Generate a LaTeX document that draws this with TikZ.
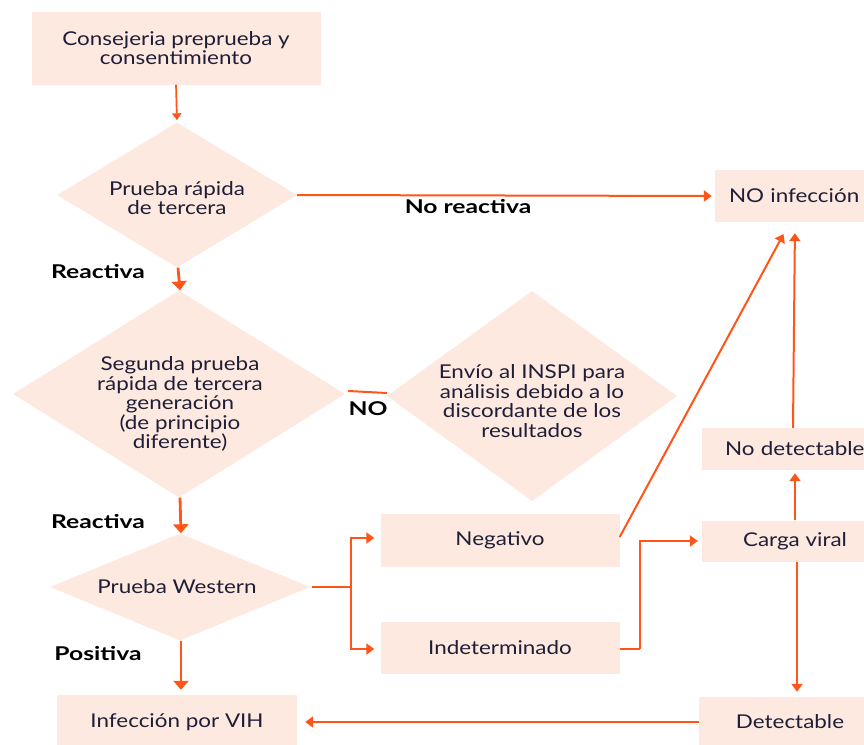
\documentclass[tikz,border=0pt]{standalone}
\usepackage{fontspec}
\setmainfont{Lato}[FakeStretch=1.18]
\newfontfamily\lblfont{Lato}[FakeStretch=1.3]
\usetikzlibrary{shapes.geometric,arrows.meta,calc}
\definecolor{peach}{RGB}{253,233,224}
\definecolor{orng}{RGB}{255,85,25}
\definecolor{ink}{RGB}{30,30,55}
\tikzset{
  box/.style={fill=peach,draw=none,inner sep=0pt,align=center,text=ink,font=\fontsize{19}{19.5}\selectfont},
  dia/.style={diamond,fill=peach,draw=none,inner sep=0pt},
  dtext/.style={align=center,text=ink,font=\fontsize{19}{19.5}\selectfont},
  lbl/.style={font=\lblfont\bfseries\fontsize{19}{19.5}\selectfont,text=black},
  arr/.style={draw=orng,line width=2pt,-{Triangle[width=11pt,length=8pt]}},
  bigarr/.style={draw=orng,line width=2.8pt,-{Triangle[width=15pt,length=9pt]}},
  smallarr/.style={draw=orng,line width=1.7pt,-{Triangle[width=9pt,length=7pt]}},
  ln/.style={draw=orng,line width=2pt},
}
\begin{document}
\begin{tikzpicture}[x=1pt,y=-1pt]
\useasboundingbox (0,0) rectangle (864,744);
\begin{scope}
\clip (0,0) rectangle (864,744);
% boxes
\node[box,minimum width=289pt,minimum height=73pt] (b1) at (176,48) {Consejeria preprueba y\\consentimiento};
\node[box,align=left,minimum width=164pt,minimum height=52pt,text width=164pt] (noinf) at (797,196) {\hspace*{14pt}NO infección};
\node[box,align=left,minimum width=186pt,minimum height=42pt,text width=186pt] (nodet) at (795,449) {\hspace*{23pt}No detectable};
\node[box,minimum width=186pt,minimum height=41pt] (carga) at (795,541) {Carga viral};
\node[box,minimum width=182pt,minimum height=50pt] (det) at (790,722) {Detectable};
\node[box,minimum width=239pt,minimum height=53pt] (neg) at (500,540) {Negativo};
\node[box,minimum width=239pt,minimum height=52pt] (ind) at (500,648) {Indeterminado};
\node[box,minimum width=240pt,minimum height=54pt] (vih) at (177,722) {Infección por VIH};
% diamonds
\node[dia,minimum width=240pt,minimum height=145pt] (d1) at (177,195) {};
\node[dia,minimum width=332pt,minimum height=207pt] (d2) at (179,394) {};
\node[dia,minimum width=290pt,minimum height=210pt] (d3) at (532,396) {};
\node[dia,minimum width=260pt,minimum height=107pt] (d4) at (180,587) {};
\node[dtext] (t1) at (177,198) {Prueba rápida\\de tercera};
\node[dtext] (t2) at (180,404) {Segunda prueba\\rápida de tercera\\generación\\(de principio\\diferente)};
\node[dtext] (t3) at (532,401) {Envío al INSPI para\\análisis debido a lo\\discordante de los\\resultados};
\node[dtext] (t4) at (177,587) {Prueba Western};
% labels
\node[lbl] (l1) at (98,272) {Reactiva};
\node[lbl] (l2) at (468,207) {No reactiva};
\node[lbl] (l3) at (368,409) {NO};
\node[lbl] (l4) at (98,522) {Reactiva};
\node[lbl] (l5) at (98,654) {Positiva};
% connectors
\draw[smallarr,shorten >=2pt] (b1.south) -- (d1.north);
\draw[arr,shorten >=3pt] (d1.east) -- (noinf.west);
\draw[bigarr] ([xshift=1pt]d1.south) -- ([xshift=1pt]d2.north);
\draw[ln] ([xshift=3pt,yshift=3pt]d2.east) -- ([yshift=3pt]d3.west);
\draw[bigarr,shorten >=1pt] ([xshift=1pt]d2.south) -- ([xshift=1pt,yshift=-1pt]d4.north);
\coordinate (sp) at (351,587);
\draw[ln] ([xshift=2pt]d4.east) -- (sp);
\draw[arr,shorten >=6pt] (sp) |- ([yshift=2pt]neg.west);
\draw[arr,shorten >=6pt] (sp) |- ([yshift=-1pt]ind.west);
\draw[bigarr,shorten >=5pt] ([xshift=1pt]d4.south) -- ([xshift=4pt]vih.north);
\coordinate (bend) at (640,649);
\draw[ln] ([yshift=-1pt]ind.east) -- (bend);
\draw[arr,shorten >=4pt] (bend) |- (carga.west);
\draw[arr,shorten >=1pt] ([yshift=3pt]neg.east) -- ([xshift=-13pt,yshift=-11pt]noinf.south);
\draw[arr,shorten >=11pt] ([xshift=-2pt]nodet.north) -- ([xshift=-2pt]noinf.south);
\draw[arr,shorten >=3pt] (carga.north) -- (nodet.south);
\draw[arr,shorten >=5pt] ([xshift=2pt]carga.south) -- ([xshift=7pt]det.north);
\draw[arr,shorten >=8pt] (det.west) -- (det.west -| vih.east);
\end{scope}
\end{tikzpicture}
\end{document}
